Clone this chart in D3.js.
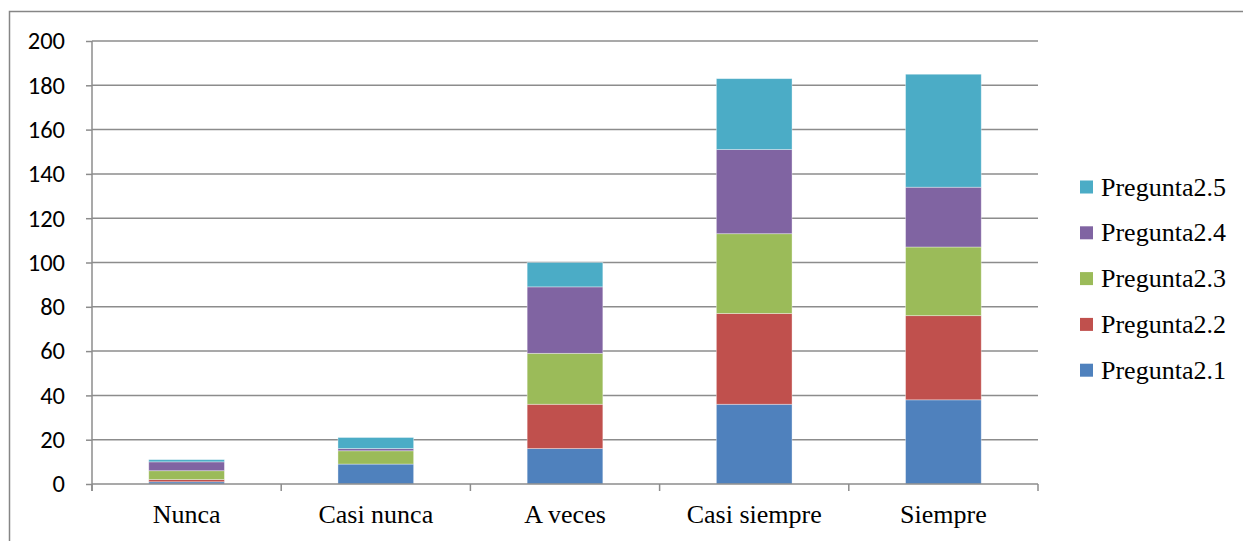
<!DOCTYPE html>
<html>
<head>
<meta charset="utf-8">
<script src="https://cdn.jsdelivr.net/npm/d3@7"></script>
<style>
  body { margin: 0; background: #fff; }
  svg { display: block; }
</style>
</head>
<body>
<div id="chart"></div>
<script>
// Data
const categories = ['Nunca', 'Casi nunca', 'A veces', 'Casi siempre', 'Siempre']
const seriesNames = ['Pregunta2.1', 'Pregunta2.2', 'Pregunta2.3', 'Pregunta2.4', 'Pregunta2.5']
const p21 = [1, 9, 16, 36, 38]
const p22 = [1, 0, 20, 41, 38]
const p23 = [4, 6, 23, 36, 31]
const p24 = [4, 1, 30, 38, 27]
const p25 = [1, 5, 11, 32, 51]
const yTicks = [0, 20, 40, 60, 80, 100, 120, 140, 160, 180, 200]
const colors = ['#4F81BD', '#C0504D', '#9BBB59', '#8064A2', '#4BACC6']

const svgWidth = 1243, svgHeight = 541
const margin = { top: 41, left: 92, right: 205, bottom: 57 }
const width = svgWidth - margin.left - margin.right
const height = svgHeight - margin.top - margin.bottom
const serif = '"Liberation Serif", "Times New Roman", serif'

const rows = categories.map((c, i) => ({
  cat: c,
  'Pregunta2.1': p21[i],
  'Pregunta2.2': p22[i],
  'Pregunta2.3': p23[i],
  'Pregunta2.4': p24[i],
  'Pregunta2.5': p25[i],
}))
const stacked = d3.stack().keys(seriesNames)(rows)

const svg = d3.select('#chart').append('svg')
  .attr('width', svgWidth).attr('height', svgHeight)

// outer chart border (top + left only visible)
svg.append('path')
  .attr('d', `M9.5,${svgHeight} V11.5 H${svgWidth}`)
  .attr('fill', 'none').attr('stroke', '#868686').attr('stroke-width', 1.5)

const x = d3.scaleBand().domain(categories).range([0, width])
  .paddingInner(0.6).paddingOuter(0.3)
const y = d3.scaleLinear().domain([0, 200]).range([height, 0])

const g = svg.append('g').attr('transform', `translate(${margin.left},${margin.top})`)

// gridlines
g.append('g').selectAll('line').data(yTicks.slice(1)).join('line')
  .attr('x1', 0).attr('x2', width)
  .attr('y1', d => y(d)).attr('y2', d => y(d))
  .attr('stroke', '#8c8c8c').attr('stroke-width', 1.5)

// y axis
const yAxis = g.append('g')
  .call(d3.axisLeft(y).tickValues(yTicks).tickSize(6).tickPadding(21))
yAxis.select('.domain').attr('stroke', '#8c8c8c').attr('stroke-width', 1.5)
  .attr('d', `M0,${height + 7}V0`)
yAxis.selectAll('.tick line').attr('stroke', '#8c8c8c').attr('stroke-width', 1.5)
yAxis.selectAll('.tick text')
  .style('font-family', 'Carlito, "Open Sans", sans-serif')
  .style('font-size', '24.5px').attr('fill', '#000')

// bars
g.append('g').selectAll('g').data(stacked).join('g')
  .attr('fill', (d, i) => colors[i])
  .selectAll('rect').data(d => d).join('rect')
  .attr('x', d => x(d.data.cat))
  .attr('width', x.bandwidth())
  .attr('y', d => y(d[1]))
  .attr('height', d => y(d[0]) - y(d[1]))
  .attr('stroke', 'rgba(255,255,255,0.45)').attr('stroke-width', 0.8)

// x axis
const bandStep = x.step()
const xTickPos = d3.range(categories.length + 1).map(i => i * bandStep)
const xg = g.append('g').attr('transform', `translate(0,${height})`)
xg.append('line').attr('x1', 0).attr('x2', width)
  .attr('stroke', '#8c8c8c').attr('stroke-width', 1.5)
xg.selectAll('.xt').data(xTickPos).join('line').attr('class', 'xt')
  .attr('x1', d => d).attr('x2', d => d).attr('y1', 0).attr('y2', 7)
  .attr('stroke', '#8c8c8c').attr('stroke-width', 1.5)
xg.selectAll('text').data(categories).join('text')
  .attr('x', d => x(d) + x.bandwidth() / 2)
  .attr('y', 39)
  .attr('text-anchor', 'middle')
  .style('font-family', serif)
  .style('font-size', '26px')
  .text(d => d)

// legend
const legend = svg.append('g').attr('transform', 'translate(1080,0)')
const legendItems = seriesNames.slice().reverse()
legend.selectAll('g').data(legendItems).join('g')
  .attr('transform', (d, i) => `translate(0,${187 + i * 45.8})`)
  .each(function (d) {
    const k = seriesNames.indexOf(d)
    d3.select(this).append('rect')
      .attr('x', 0).attr('y', -6.5).attr('width', 13).attr('height', 13)
      .attr('fill', colors[k])
    d3.select(this).append('text')
      .attr('x', 21).attr('y', 8.5)
      .style('font-family', serif)
      .style('font-size', '26px')
      .text(d)
  })
</script>
</body>
</html>
